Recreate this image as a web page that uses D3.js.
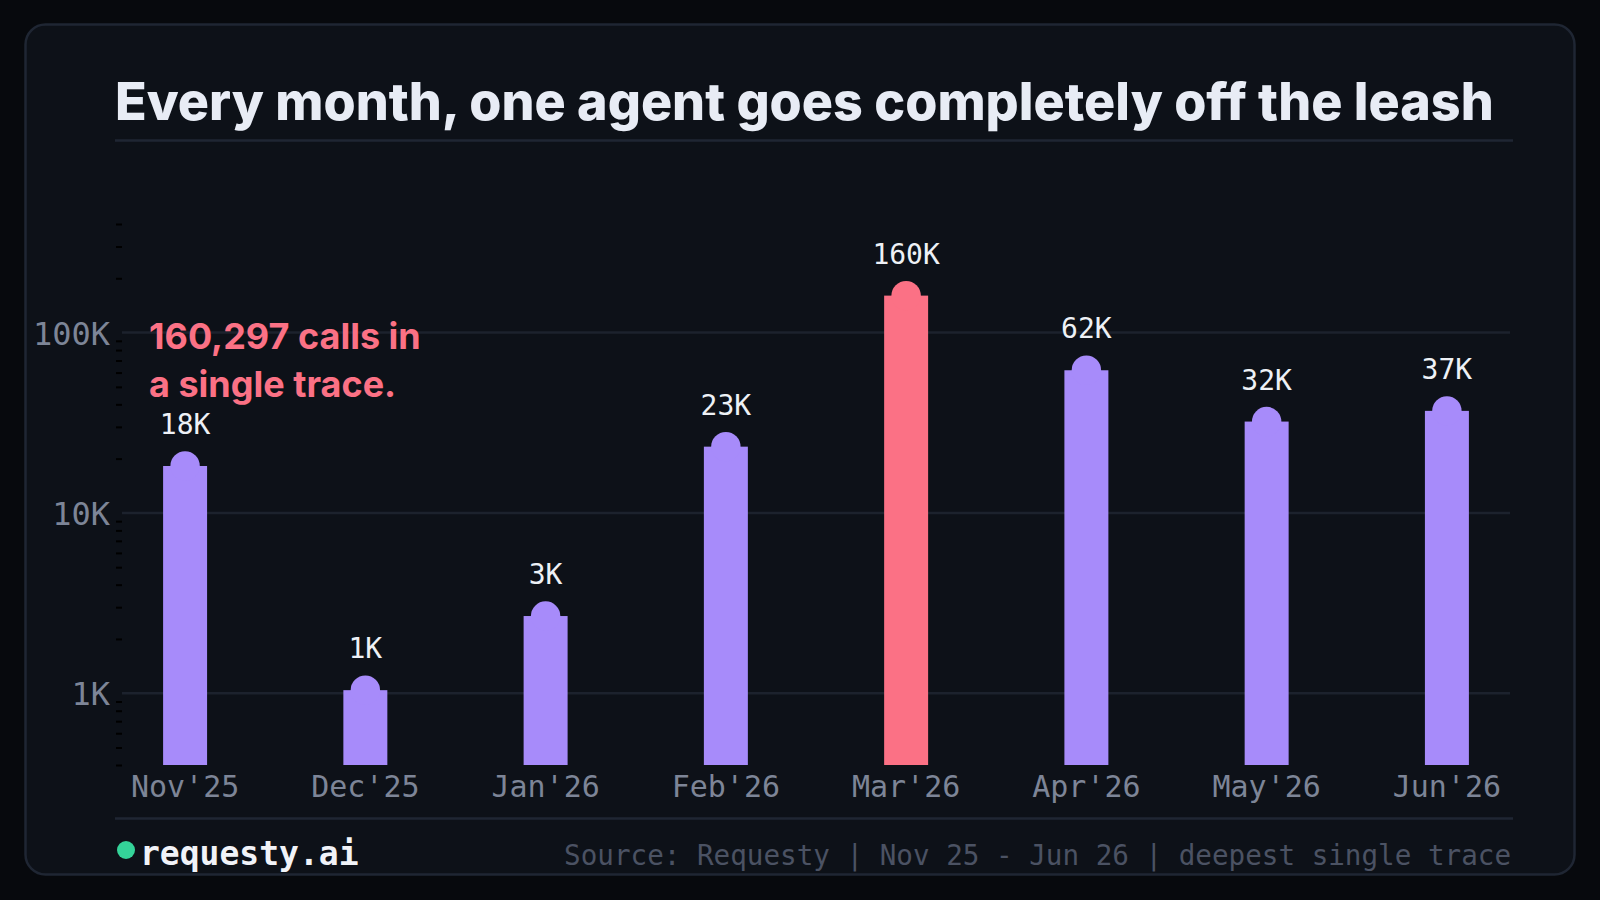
<!DOCTYPE html>
<html>
<head>
<meta charset="utf-8">
<script src="https://cdn.jsdelivr.net/npm/d3@7"></script>
<style>
  html, body { margin: 0; padding: 0; background: #07090d; }
  svg { display: block; }
</style>
</head>
<body>
<svg id="chart" width="1600" height="900"></svg>
<script>
// ---- data ----
const months = ["Nov'25", "Dec'25", "Jan'26", "Feb'26", "Mar'26", "Apr'26", "May'26", "Jun'26"];
const deepestTrace = [18200, 1040, 2680, 23300, 160297, 61800, 32100, 36800];
const highlightMonth = "Mar'26";
const yTickValues = [1000, 10000, 100000];
const yTickLabels = ["1K", "10K", "100K"];
const yDomain = [400, 400000];
const titleText = "Every month, one agent goes completely off the leash";
const annotationLines = ["160,297 calls in", "a single trace."];
const brandText = "requesty.ai";
const sourceText = "Source: Requesty | Nov 25 - Jun 26 | deepest single trace";

// ---- styling ----
const MONO = "'DejaVu Sans Mono', 'Liberation Mono', monospace";
const SANS = "Inter, 'Noto Sans', sans-serif";
const C = {
  page: "#07090d", card: "#0d1118", cardStroke: "#1f2633", rule: "#1f2633",
  grid: "#1c222d", title: "#e8ecf5", axis: "#7d8597", value: "#eef1f6",
  bar: "#a78bfa", hot: "#fb7185", brand: "#f1f3f8", dot: "#34d399", source: "#4b5263"
};

const svg = d3.select("#chart");
svg.append("rect").attr("width", 1600).attr("height", 900).attr("fill", C.page);
svg.append("rect").attr("x", 25.5).attr("y", 24.5).attr("width", 1549).attr("height", 850)
  .attr("rx", 20).attr("fill", C.card).attr("stroke", C.cardStroke).attr("stroke-width", 2.5);

// title
svg.append("text").attr("x", 115).attr("y", 120).text(titleText)
  .attr("font-family", SANS).attr("font-weight", 800).attr("font-size", 52)
  .attr("fill", C.title);
svg.append("line").attr("x1", 115).attr("x2", 1513).attr("y1", 140.5).attr("y2", 140.5)
  .attr("stroke", C.rule).attr("stroke-width", 2.5);

// scales
const x = d3.scaleBand().domain(months).range([122, 1510]).paddingInner(0.756).paddingOuter(0.228);
const y = d3.scaleLog().domain(yDomain).range([765, 224]);

// gridlines
svg.append("g").selectAll("line").data(yTickValues).join("line")
  .attr("x1", 122).attr("x2", 1510)
  .attr("y1", d => y(d)).attr("y2", d => y(d))
  .attr("stroke", C.grid).attr("stroke-width", 2.5);

// y axis (minor ticks + labels)
const minor = [];
for (let e = 2; e <= 5; e++) for (let m = 1; m <= 9; m++) {
  const v = m * Math.pow(10, e);
  if (v >= yDomain[0] && v <= yDomain[1] && !yTickValues.includes(v)) minor.push(v);
}
const yAxis = d3.axisLeft(y).tickValues(minor).tickSize(6).tickFormat("");
const gy = svg.append("g").attr("transform", "translate(122,0)").call(yAxis);
gy.select(".domain").remove();
gy.selectAll(".tick line").attr("stroke", "#000").attr("stroke-width", 2);

svg.append("g").selectAll("text").data(yTickValues).join("text")
  .attr("x", 110).attr("y", d => y(d) + 12)
  .attr("text-anchor", "end").text((d, i) => yTickLabels[i])
  .attr("font-family", MONO).attr("font-size", 32).attr("fill", C.axis);

// bars
const data = months.map((m, i) => ({ m, v: deepestTrace[i] }));
const bw = x.bandwidth();
const gb = svg.append("g");
gb.selectAll("rect").data(data).join("rect")
  .attr("x", d => x(d.m)).attr("width", bw)
  .attr("y", d => y(d.v)).attr("height", d => y(yDomain[0]) - y(d.v))
  .attr("fill", d => d.m === highlightMonth ? C.hot : C.bar);
gb.selectAll("circle").data(data).join("circle")
  .attr("cx", d => x(d.m) + bw / 2).attr("cy", d => y(d.v)).attr("r", 14.7)
  .attr("fill", d => d.m === highlightMonth ? C.hot : C.bar);
gb.selectAll("text").data(data).join("text")
  .attr("x", d => x(d.m) + bw / 2).attr("y", d => y(d.v) - 32)
  .attr("text-anchor", "middle").text(d => Math.round(d.v / 1000) + "K")
  .attr("font-family", MONO).attr("font-size", 28).attr("fill", C.value);

// x axis labels
const xAxis = d3.axisBottom(x).tickSize(0).tickPadding(0);
const gx = svg.append("g").attr("transform", "translate(0,797)").call(xAxis);
gx.select(".domain").remove();
gx.selectAll("text").attr("font-family", MONO).attr("font-size", 30)
  .attr("fill", C.axis).attr("dy", 0).attr("y", 0);

// annotation
svg.append("g").selectAll("text").data(annotationLines).join("text")
  .attr("x", 149).attr("y", (d, i) => 349 + i * 47.5).text(d => d)
  .attr("font-family", SANS).attr("font-weight", 700).attr("font-size", 36)
  .attr("fill", C.hot);

// footer
svg.append("line").attr("x1", 115).attr("x2", 1513).attr("y1", 818.5).attr("y2", 818.5)
  .attr("stroke", C.rule).attr("stroke-width", 2.5);
svg.append("circle").attr("cx", 126).attr("cy", 850).attr("r", 9).attr("fill", C.dot);
svg.append("text").attr("x", 140).attr("y", 865).text(brandText)
  .attr("font-family", MONO).attr("font-weight", 700).attr("font-size", 33).attr("fill", C.brand);
svg.append("text").attr("x", 1511).attr("y", 865).attr("text-anchor", "end").text(sourceText)
  .attr("font-family", MONO).attr("font-size", 27.6).attr("fill", C.source);
</script>
</body>
</html>
